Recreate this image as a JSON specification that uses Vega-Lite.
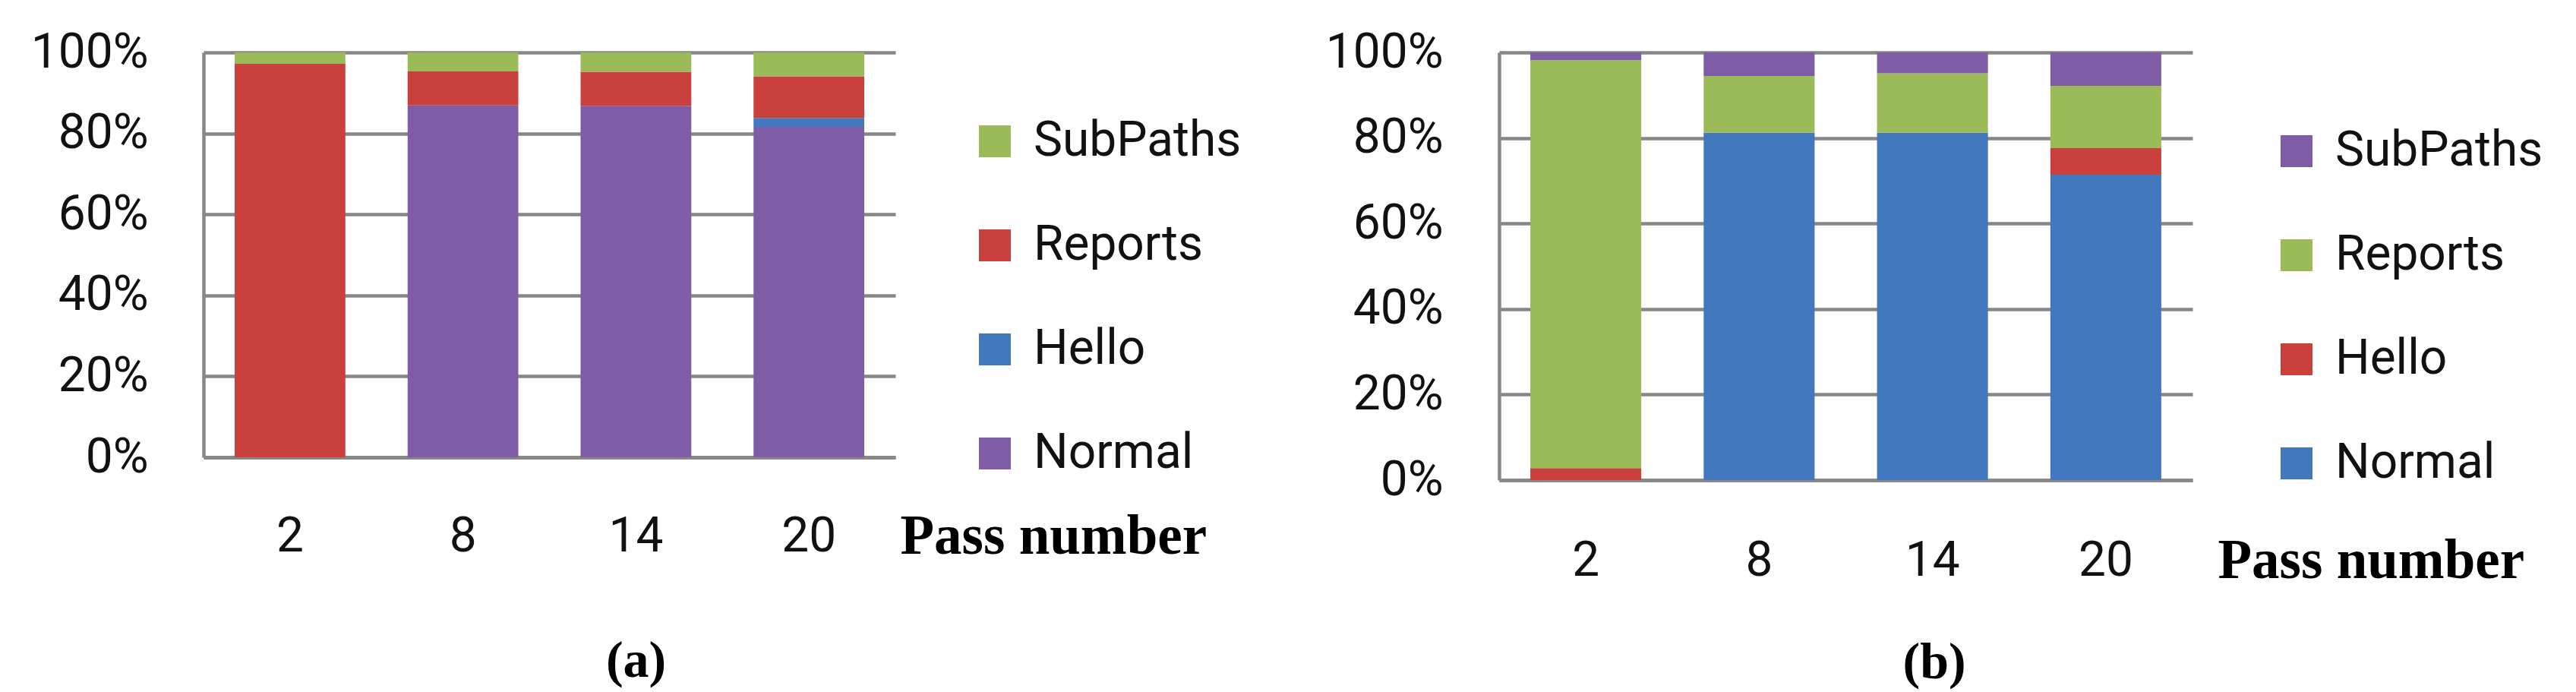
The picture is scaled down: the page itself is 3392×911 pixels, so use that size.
{
  "$schema": "https://vega.github.io/schema/vega-lite/v6.json",
  "autosize": {"type": "pad"},
  "padding": {"left": 40, "top": 37, "right": 0, "bottom": 0},
  "background": "white",
  "bounds": "flush",
  "spacing": 795,
  "config": {
    "view": {"stroke": null},
    "axis": {
      "domainColor": "#878787", "domainWidth": 4.5, "gridColor": "#878787", "gridWidth": 4.5,
      "ticks": false, "tickSize": 0, "labelFont": "Roboto", "labelFontSize": 64, "labelColor": "#111111"
    },
    "legend": {"padding": 0}
  },
  "datasets": {
    "a": [
      {"pass": 2, "type": "Normal", "pct": 0}, {"pass": 2, "type": "Hello", "pct": 0}, {"pass": 2, "type": "Reports", "pct": 97.2}, {"pass": 2, "type": "SubPaths", "pct": 2.8},
      {"pass": 8, "type": "Normal", "pct": 86.9}, {"pass": 8, "type": "Hello", "pct": 0}, {"pass": 8, "type": "Reports", "pct": 8.4}, {"pass": 8, "type": "SubPaths", "pct": 4.7},
      {"pass": 14, "type": "Normal", "pct": 86.8}, {"pass": 14, "type": "Hello", "pct": 0}, {"pass": 14, "type": "Reports", "pct": 8.4}, {"pass": 14, "type": "SubPaths", "pct": 4.8},
      {"pass": 20, "type": "Normal", "pct": 81.6}, {"pass": 20, "type": "Hello", "pct": 2.2}, {"pass": 20, "type": "Reports", "pct": 10.3}, {"pass": 20, "type": "SubPaths", "pct": 5.9}
    ],
    "b": [
      {"pass": 2, "type": "Normal", "pct": 0}, {"pass": 2, "type": "Hello", "pct": 2.8}, {"pass": 2, "type": "Reports", "pct": 95.4}, {"pass": 2, "type": "SubPaths", "pct": 1.8},
      {"pass": 8, "type": "Normal", "pct": 81.2}, {"pass": 8, "type": "Hello", "pct": 0}, {"pass": 8, "type": "Reports", "pct": 13.3}, {"pass": 8, "type": "SubPaths", "pct": 5.5},
      {"pass": 14, "type": "Normal", "pct": 81.2}, {"pass": 14, "type": "Hello", "pct": 0}, {"pass": 14, "type": "Reports", "pct": 13.9}, {"pass": 14, "type": "SubPaths", "pct": 4.9},
      {"pass": 20, "type": "Normal", "pct": 71.4}, {"pass": 20, "type": "Hello", "pct": 6.2}, {"pass": 20, "type": "Reports", "pct": 14.6}, {"pass": 20, "type": "SubPaths", "pct": 7.8}
    ]
  },
  "resolve": {"scale": {"color": "independent", "x": "independent", "y": "independent"}, "legend": {"color": "independent"}},
  "hconcat": [
    {
      "width": 911, "height": 533,
      "data": {"name": "a"},
      "title": {"text": "(a)", "orient": "bottom", "frame": "bounds", "anchor": "middle", "font": "Liberation Serif", "fontSize": 68, "fontWeight": "bold", "color": "#000000", "offset": 94},
      "transform": [{"calculate": "indexof(['Normal','Hello','Reports','SubPaths'], datum.type)", "as": "stackOrder"}],
      "mark": {"type": "bar"},
      "encoding": {
        "x": {"field": "pass", "type": "ordinal", "scale": {"paddingInner": 0.36, "paddingOuter": 0.18},
          "axis": {"labelAngle": 0, "labelPadding": 104, "labelBaseline": "middle", "grid": false,
            "title": "Pass number", "titleFont": "Liberation Serif", "titleFontWeight": "bold", "titleFontSize": 73, "titleColor": "#000000",
            "titleX": 917, "titleY": 104, "titleAlign": "left", "titleBaseline": "middle", "titleAngle": 0}},
        "y": {"field": "pct", "type": "quantitative", "stack": "normalize", "scale": {"domain": [0, 1]},
          "axis": {"values": [0, 0.2, 0.4, 0.6, 0.8, 1], "format": ".0%", "labelPadding": 73, "title": null, "grid": true}},
        "color": {"field": "type", "type": "nominal",
          "scale": {"domain": ["SubPaths", "Reports", "Hello", "Normal"], "range": ["#9BBB59", "#C9403C", "#4178BE", "#7E5DA6"]},
          "legend": {"title": null, "orient": "none", "legendX": 1010, "legendY": 85, "symbolType": "square", "symbolSize": 1764, "symbolStrokeWidth": 0, "symbolOpacity": 1,
            "labelFont": "Roboto", "labelFontSize": 64, "labelOffset": 19, "labelLimit": 0, "rowPadding": 73, "labelColor": "#111111"}},
        "order": {"field": "stackOrder", "type": "quantitative"}
      }
    },
    {
      "width": 913, "height": 563,
      "data": {"name": "b"},
      "title": {"text": "(b)", "orient": "bottom", "frame": "bounds", "anchor": "middle", "font": "Liberation Serif", "fontSize": 68, "fontWeight": "bold", "color": "#000000", "offset": 64},
      "transform": [{"calculate": "indexof(['Normal','Hello','Reports','SubPaths'], datum.type)", "as": "stackOrder"}],
      "mark": {"type": "bar"},
      "encoding": {
        "x": {"field": "pass", "type": "ordinal", "scale": {"paddingInner": 0.36, "paddingOuter": 0.18},
          "axis": {"labelAngle": 0, "labelPadding": 106, "labelBaseline": "middle", "grid": false,
            "title": "Pass number", "titleFont": "Liberation Serif", "titleFontWeight": "bold", "titleFontSize": 73, "titleColor": "#000000",
            "titleX": 946, "titleY": 106, "titleAlign": "left", "titleBaseline": "middle", "titleAngle": 0}},
        "y": {"field": "pct", "type": "quantitative", "stack": "normalize", "scale": {"domain": [0, 1]},
          "axis": {"values": [0, 0.2, 0.4, 0.6, 0.8, 1], "format": ".0%", "labelPadding": 74, "title": null, "grid": true}},
        "color": {"field": "type", "type": "nominal",
          "scale": {"domain": ["SubPaths", "Reports", "Hello", "Normal"], "range": ["#7E5DA6", "#9BBB59", "#C9403C", "#4178BE"]},
          "legend": {"title": null, "orient": "none", "legendX": 1018, "legendY": 98, "symbolType": "square", "symbolSize": 1764, "symbolStrokeWidth": 0, "symbolOpacity": 1,
            "labelFont": "Roboto", "labelFontSize": 64, "labelOffset": 19, "labelLimit": 0, "rowPadding": 73, "labelColor": "#111111"}},
        "order": {"field": "stackOrder", "type": "quantitative"}
      }
    }
  ]
}
